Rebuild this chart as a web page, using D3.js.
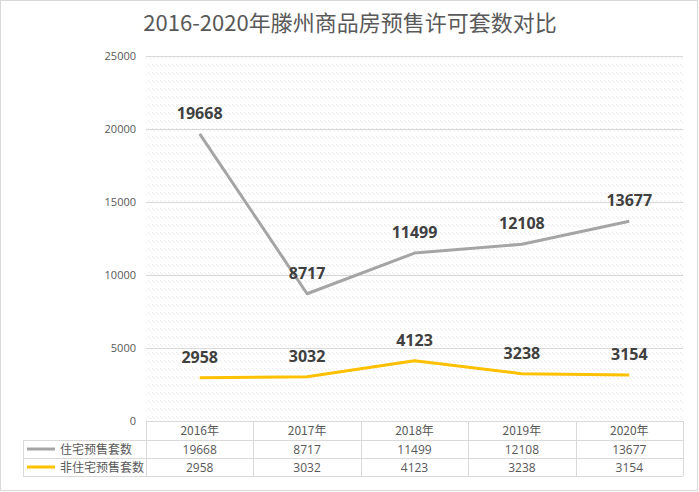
<!DOCTYPE html>
<html><head><meta charset="utf-8">
<script src="https://cdn.jsdelivr.net/npm/d3@7"></script>
<style>body{margin:0;background:#fff}svg{display:block}</style>
</head><body>
<script>
const categories = ["2016年","2017年","2018年","2019年","2020年"];
const seriesNames = ["住宅预售套数","非住宅预售套数"];
const residential = [19668, 8717, 11499, 12108, 13677];
const nonResidential = [2958, 3032, 4123, 3238, 3154];
const yTicks = [0, 5000, 10000, 15000, 20000, 25000];
const colors = ["#A5A5A5", "#FFC000"];
const series = [residential, nonResidential];

(function(){
const W = 699, H = 492;
const svg = d3.select("body").append("svg").attr("width", W).attr("height", H);
const defs = svg.append("defs");
const pat = defs.append("pattern").attr("id","hatch").attr("patternUnits","userSpaceOnUse")
  .attr("width",4).attr("height",8);
pat.append("path").attr("d","M0,0 L3,3").attr("stroke","#ececec").attr("stroke-width",1);

svg.append("rect").attr("x",0.5).attr("y",0.5).attr("width",W-2).attr("height",H-2)
  .attr("fill","#fff").attr("stroke","#d9d9d9");

const pL = 146, pR = 683, pT = 56, pB = 421;
const x = d3.scaleBand().domain(categories).range([pL, pR]);
const y = d3.scaleLinear().domain([0, 25000]).range([pB, pT]);

svg.append("rect").attr("x",pL).attr("y",pT).attr("width",pR-pL).attr("height",pB-pT)
  .attr("fill","url(#hatch)");

svg.append("text").attr("x", 350).attr("y", 31).attr("text-anchor","middle")
  .attr("font-family","'Noto Sans CJK SC', sans-serif").attr("font-size",22)
  .attr("fill","#595959").text("2016-2020年滕州商品房预售许可套数对比");

svg.append("g").selectAll("line").data(yTicks.filter(d=>d>0)).join("line")
  .attr("x1",pL).attr("x2",pR).attr("y1",d=>Math.round(y(d))+0.5).attr("y2",d=>Math.round(y(d))+0.5)
  .attr("stroke","#d9d9d9");

const yAxis = svg.append("g").attr("transform",`translate(${pL},0)`)
  .call(d3.axisLeft(y).tickValues(yTicks).tickSize(0).tickPadding(10).tickFormat(d3.format("d")));
yAxis.select(".domain").remove();
yAxis.selectAll("text").attr("font-family","'Open Sans', sans-serif").attr("font-size",11).attr("fill","#595959");

const line = d3.line().x((d,i)=>x(categories[i])+x.bandwidth()/2).y(d=>y(d));
series.forEach((s,k)=>{
  svg.append("path").datum(s).attr("d",line).attr("fill","none")
    .attr("stroke",colors[k]).attr("stroke-width",3).attr("stroke-linejoin","round");
  svg.append("g").selectAll("text").data(s).join("text")
    .attr("x",(d,i)=>x(categories[i])+x.bandwidth()/2)
    .attr("y",d=>y(d)-15).attr("text-anchor","middle")
    .attr("font-family","'Open Sans', sans-serif").attr("font-weight","bold").attr("font-size",16)
    .attr("fill","#404040").text(d=>d);
});

const tLeft = 23;
const tg = svg.append("g").attr("stroke","#d9d9d9").attr("fill","none");
tg.append("line").attr("x1",pL).attr("x2",pR).attr("y1",pB+0.5).attr("y2",pB+0.5);
[440,458,476].forEach(yy=>tg.append("line").attr("x1",tLeft).attr("x2",pR).attr("y1",yy+0.5).attr("y2",yy+0.5));
tg.append("line").attr("x1",tLeft+0.5).attr("x2",tLeft+0.5).attr("y1",440).attr("y2",476);
categories.forEach(c=>{
  const xx = Math.round(x(c))+0.5;
  tg.append("line").attr("x1",xx).attr("x2",xx).attr("y1",pB).attr("y2",476);
});
tg.append("line").attr("x1",pR+0.5).attr("x2",pR+0.5).attr("y1",pB).attr("y2",476);

const tf = "'Noto Sans CJK SC', sans-serif";
svg.append("g").selectAll("text").data(categories).join("text")
  .attr("x",d=>x(d)+x.bandwidth()/2).attr("y",435).attr("text-anchor","middle")
  .attr("font-family",tf).attr("font-size",12).attr("fill","#595959").text(d=>d);
series.forEach((s,k)=>{
  const cy = [449,467][k];
  svg.append("line").attr("x1",27).attr("x2",55).attr("y1",cy).attr("y2",cy)
    .attr("stroke",colors[k]).attr("stroke-width",3);
  svg.append("text").attr("x",60).attr("y",cy+4.5).attr("font-family",tf).attr("font-size",12)
    .attr("fill","#595959").text(seriesNames[k]);
  svg.append("g").selectAll("text").data(s).join("text")
    .attr("x",(d,i)=>x(categories[i])+x.bandwidth()/2).attr("y",cy+4.5).attr("text-anchor","middle")
    .attr("font-family","'Open Sans', sans-serif").attr("font-size",12).attr("fill","#595959").text(d=>d);
});
})();
</script>
</body></html>
